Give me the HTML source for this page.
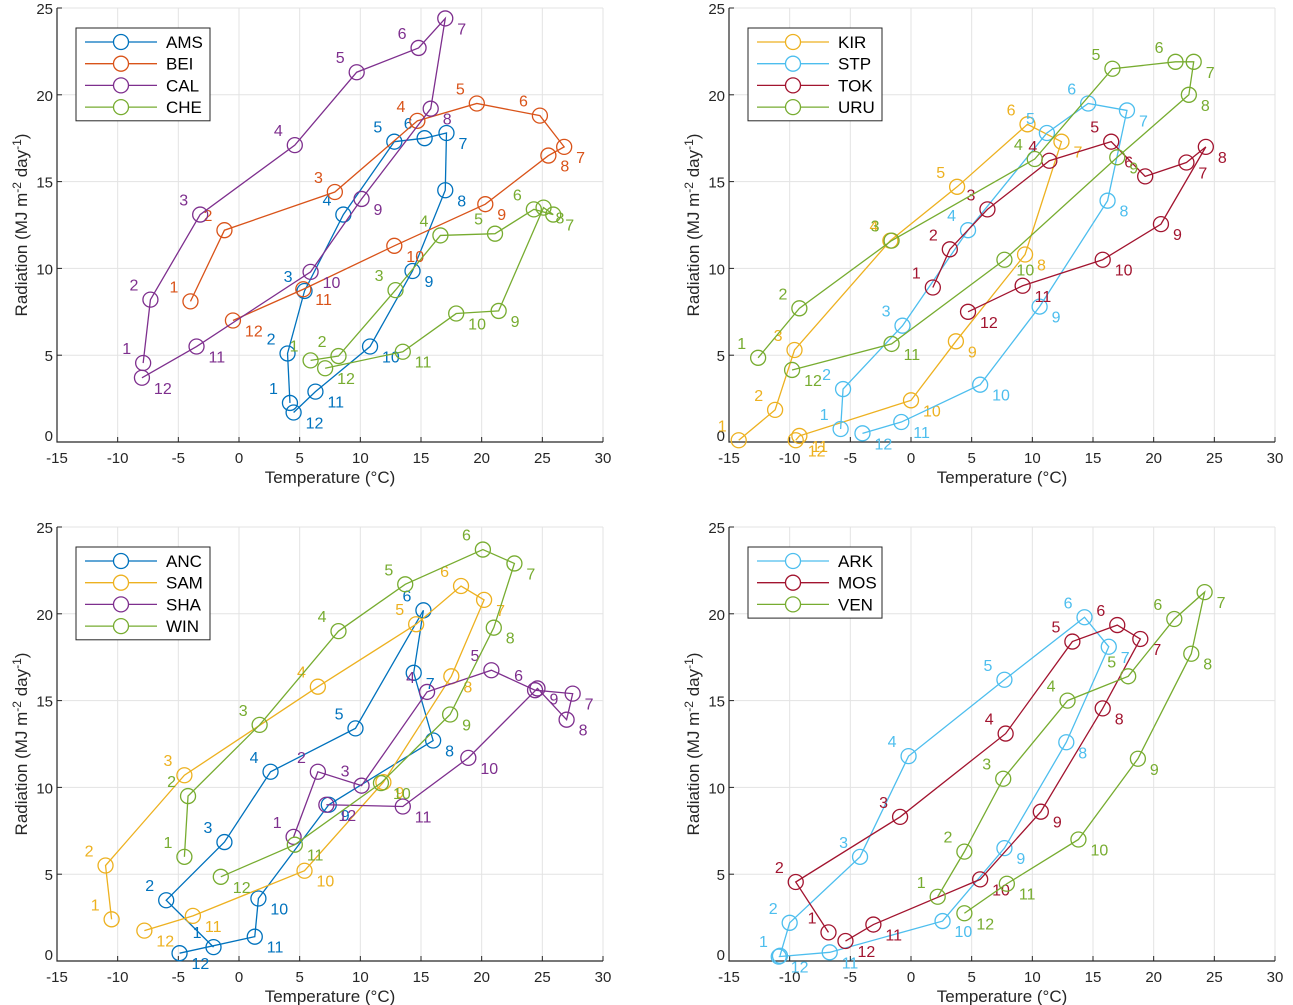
<!DOCTYPE html>
<html><head><meta charset="utf-8"><style>
body{margin:0;background:#fff;}
svg{display:block;font-family:"Liberation Sans",Arial,sans-serif;}
</style></head><body>
<svg id="chart" width="1293" height="1005" viewBox="0 0 1293 1005"></svg>
<script>
// ---- data (x = temperature °C, y = radiation MJ m-2 day-1), months 1..12 ----
const months = [1,2,3,4,5,6,7,8,9,10,11,12];
const xTicks = [-15,-10,-5,0,5,10,15,20,25,30];
const yTicks = [0,5,10,15,20,25];

const amsT = [4.2,4.0,5.4,8.6,12.8,15.3,17.1,17.0,14.3,10.8,6.3,4.5];
const amsR = [2.25,5.1,8.7,13.1,17.3,17.5,17.8,14.5,9.85,5.5,2.9,1.7];
const beiT = [-4.0,-1.2,7.9,14.7,19.6,24.8,26.8,25.5,20.3,12.8,5.3,-0.5];
const beiR = [8.1,12.2,14.4,18.5,19.5,18.8,17.0,16.5,13.7,11.3,8.8,7.0];
const calT = [-7.9,-7.3,-3.2,4.6,9.7,14.8,17.0,15.8,10.1,5.9,-3.5,-8.0];
const calR = [4.55,8.2,13.1,17.1,21.3,22.7,24.4,19.2,14.0,9.8,5.5,3.7];
const cheT = [5.9,8.2,12.9,16.6,21.1,24.3,25.9,25.1,21.4,17.9,13.5,7.1];
const cheR = [4.7,4.95,8.75,11.9,12.0,13.4,13.1,13.5,7.55,7.4,5.2,4.25];

const kirT = [-14.2,-11.2,-9.6,-1.7,3.8,9.6,12.4,9.4,3.7,0,-9.2,-9.5];
const kirR = [0.1,1.85,5.3,11.6,14.7,18.3,17.3,10.8,5.8,2.4,0.35,0.1];
const stpT = [-5.8,-5.6,-0.7,4.7,11.2,14.6,17.8,16.2,10.6,5.7,-0.8,-4.0];
const stpR = [0.75,3.05,6.7,12.2,17.8,19.5,19.1,13.9,7.8,3.3,1.15,0.5];
const tokT = [1.8,3.2,6.3,11.4,16.5,19.3,22.7,24.3,20.6,15.8,9.2,4.7];
const tokR = [8.9,11.1,13.4,16.2,17.3,15.3,16.1,17.0,12.55,10.5,9.0,7.5];
const uruT = [-12.6,-9.2,-1.6,10.2,16.6,21.8,23.3,22.9,17.0,7.7,-1.6,-9.8];
const uruR = [4.85,7.7,11.6,16.3,21.5,21.9,21.9,20.0,16.4,10.5,5.65,4.15];

const ancT = [-2.1,-6.0,-1.2,2.6,9.6,15.2,14.4,16.0,7.4,1.6,1.3,-4.9];
const ancR = [0.8,3.5,6.85,10.9,13.4,20.2,16.6,12.7,9.0,3.6,1.4,0.45];
const samT = [-10.5,-11.0,-4.5,6.5,14.6,18.3,20.2,17.5,11.9,5.4,-3.8,-7.8];
const samR = [2.4,5.5,10.7,15.8,19.4,21.6,20.8,16.4,10.3,5.2,2.6,1.75];
const shaT = [4.5,6.5,10.1,15.5,20.8,24.4,27.5,27.0,24.6,18.9,13.5,7.2];
const shaR = [7.15,10.9,10.1,15.5,16.75,15.6,15.4,13.9,15.7,11.7,8.9,9.0];
const winT = [-4.5,-4.2,1.7,8.2,13.7,20.1,22.7,21.0,17.4,11.7,4.6,-1.5];
const winR = [6.0,9.5,13.6,19.0,21.7,23.7,22.9,19.2,14.2,10.25,6.7,4.85];

const arkT = [-10.8,-10.0,-4.2,-0.2,7.7,14.3,16.3,12.8,7.7,2.6,-6.7,-10.9];
const arkR = [0.3,2.2,6.0,11.8,16.2,19.8,18.1,12.6,6.5,2.3,0.5,0.25];
const mosT = [-6.8,-9.5,-0.9,7.8,13.3,17.0,18.9,15.8,10.7,5.7,-3.1,-5.4];
const mosR = [1.65,4.55,8.3,13.1,18.4,19.35,18.55,14.55,8.6,4.7,2.1,1.15];
const venT = [2.2,4.4,7.6,12.9,17.9,21.7,24.2,23.1,18.7,13.8,7.9,4.4];
const venR = [3.7,6.3,10.5,15.0,16.4,19.7,21.25,17.7,11.65,7.0,4.45,2.75];

const C = {blue:"#0072BD",orange:"#D95319",yellow:"#EDB120",purple:"#7E2F8E",green:"#77AC30",cyan:"#4DBEEE",red:"#A2142F"};

const panels = [
 {left:57, bottom:442, legendX:76, legendY:28, series:[
   {name:"AMS",t:amsT,r:amsR,c:C.blue},{name:"BEI",t:beiT,r:beiR,c:C.orange},
   {name:"CAL",t:calT,r:calR,c:C.purple},{name:"CHE",t:cheT,r:cheR,c:C.green}]},
 {left:729, bottom:442, legendX:748, legendY:28, series:[
   {name:"KIR",t:kirT,r:kirR,c:C.yellow},{name:"STP",t:stpT,r:stpR,c:C.cyan},
   {name:"TOK",t:tokT,r:tokR,c:C.red},{name:"URU",t:uruT,r:uruR,c:C.green}]},
 {left:57, bottom:961, legendX:76, legendY:547, series:[
   {name:"ANC",t:ancT,r:ancR,c:C.blue},{name:"SAM",t:samT,r:samR,c:C.yellow},
   {name:"SHA",t:shaT,r:shaR,c:C.purple},{name:"WIN",t:winT,r:winR,c:C.green}]},
 {left:729, bottom:961, legendX:748, legendY:547, series:[
   {name:"ARK",t:arkT,r:arkR,c:C.cyan},{name:"MOS",t:mosT,r:mosR,c:C.red},
   {name:"VEN",t:venT,r:venR,c:C.green}]}
];

const NS="http://www.w3.org/2000/svg";
const svg=document.getElementById('chart');
function mk(tag,attrs,parent){const e=document.createElementNS(NS,tag);for(const k in attrs)e.setAttribute(k,attrs[k]);(parent||svg).appendChild(e);return e;}
const W=546, H=434, XMIN=-15, XMAX=30, YMAX=25;

panels.forEach((p,pi)=>{
  const g=mk('g',{});
  
  
  const sx=v=>p.left+(v-XMIN)/(XMAX-XMIN)*W;
  const sy=v=>p.bottom-v/YMAX*H;
  xTicks.forEach(t=>{
    const l=mk('line',{x1:sx(t),x2:sx(t),y1:p.bottom,y2:p.bottom-H,stroke:"#e3e3e3","stroke-width":1},g);
    
    
    mk('line',{x1:sx(t),x2:sx(t),y1:p.bottom,y2:p.bottom-5,stroke:"#262626","stroke-width":1},g);
    const tx=mk('text',{x:sx(t),y:p.bottom+21,"text-anchor":"middle","font-size":15,fill:"#262626"},g);
    tx.textContent=t;
    
    
  });
  yTicks.forEach(t=>{
    const l=mk('line',{x1:p.left,x2:p.left+W,y1:sy(t),y2:sy(t),stroke:"#e3e3e3","stroke-width":1},g);
    
    
    mk('line',{x1:p.left,x2:p.left+5,y1:sy(t),y2:sy(t),stroke:"#262626","stroke-width":1},g);
    const tx=mk('text',{x:p.left-4,y:sy(t)+(t===0?-1:6),"text-anchor":"end","font-size":15,fill:"#262626"},g);
    tx.textContent=t;
    
    
  });
  const ax=mk('path',{d:`M${p.left},${p.bottom-H}V${p.bottom}H${p.left+W}`,fill:"none",stroke:"#262626","stroke-width":1.2},g);
  
  
  const xl=mk('text',{x:p.left+W/2,y:p.bottom+41,"text-anchor":"middle","font-size":17,fill:"#262626"},g);
  xl.textContent="Temperature (°C)";
  
  
  const yl=mk('text',{x:0,y:0,"text-anchor":"middle","font-size":17,fill:"#262626",transform:`translate(${p.left-30},${p.bottom-H/2}) rotate(-90)`},g);
  yl.innerHTML='Radiation (MJ m<tspan dy="-6" font-size="12">-2</tspan><tspan dy="6"> day</tspan><tspan dy="-6" font-size="12">-1</tspan><tspan dy="6">)</tspan>';
  
  
  p.series.forEach(s=>{
    const sg=mk('g',{},g);
    
    
    const pts=s.t.map((t,i)=>sx(t)+','+sy(s.r[i])).join(' ');
    const pl=mk('polyline',{points:pts,fill:"none",stroke:s.c,"stroke-width":1.3},sg);
    
    
    s.t.forEach((t,i)=>{
      const cx=sx(t), cy=sy(s.r[i]);
      const c=mk('circle',{cx:cx,cy:cy,r:7.5,fill:"none",stroke:s.c,"stroke-width":1.3},sg);
      
      
      const early=months[i]<=6;
      const lb=mk('text',{x:cx+(early?-12:12),y:cy+(early?-9:16),"text-anchor":early?"end":"start","font-size":16,fill:s.c},sg);
      lb.textContent=months[i];
      
      
    });
  });
  const n=p.series.length;
  const lg=mk('g',{},g);
  
  
  mk('rect',{x:p.legendX,y:p.legendY,width:134,height:n*21.7+6,fill:"#fff",stroke:"#262626","stroke-width":1},lg);
  p.series.forEach((s,i)=>{
    const y=p.legendY+14+i*21.7;
    const e=mk('g',{},lg);
    
    
    mk('line',{x1:p.legendX+9,x2:p.legendX+81,y1:y,y2:y,stroke:s.c,"stroke-width":1.3},e);
    mk('circle',{cx:p.legendX+45,cy:y,r:7.5,fill:"#fff",stroke:s.c,"stroke-width":1.3},e);
    const t=mk('text',{x:p.legendX+90,y:y+6,"font-size":17,fill:"#000"},e);
    t.textContent=s.name;
  });
});
</script>
</body></html>
